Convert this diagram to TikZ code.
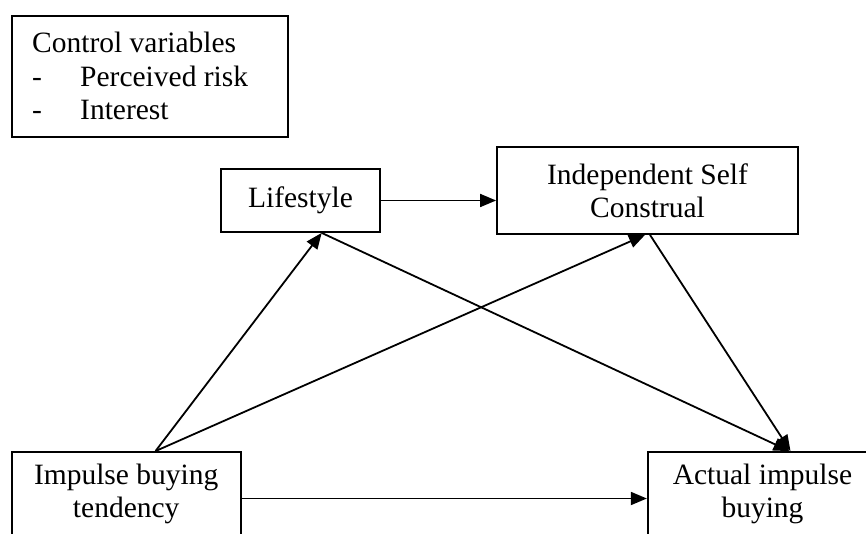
\documentclass[tikz,border=0pt]{standalone}
\usepackage{fontspec}
\setmainfont{Liberation Serif}
\usetikzlibrary{arrows.meta}
\begin{document}
\begin{tikzpicture}[x=1pt,y=-1pt,
  box/.style={draw, line width=1.8pt, inner sep=0pt, align=center, font=\fontsize{29.5}{33}\selectfont},
  lbl/.style={inner sep=0pt, anchor=base west, font=\fontsize{29.5}{33}\selectfont},
  arr/.style={line width=1.8pt, -{Triangle[length=16pt,width=13pt]}}]
\useasboundingbox (0,0) rectangle (866,534);
\clip (0,0) rectangle (866,534);
% control variables box
\node[box, minimum width=276pt, minimum height=121pt] (ctrl) at (150,76.5) {};
\node[lbl] (c1) at (32,52.7) {Control variables};
\node[lbl] (c2) at (32,86.7) {\makebox[48pt][l]{-}Perceived risk};
\node[lbl] (c3) at (32,120) {\makebox[48pt][l]{-}Interest};
% main nodes
\node[box, minimum width=159pt, minimum height=63pt] (life) at (300.5,200.5) {Lifestyle};
\node[box, minimum width=301pt, minimum height=87pt] (isc) at (647.5,190.5) {Independent Self\\Construal};
\node[box, minimum width=229pt, minimum height=84pt] (imp) at (126.2,494) {Impulse buying\\tendency};
\node[box, minimum width=229.5pt, minimum height=84pt] (act) at (762.5,494) {Actual impulse\\buying};
% connectors
\draw[arr] (life.east) -- (life.east -| isc.west);
\draw[arr] ([xshift=29.3pt]imp.north) -- ([xshift=21.2pt]life.south);
\draw[arr] ([xshift=29.3pt]imp.north) -- ([xshift=-2.5pt]isc.south);
\draw[arr] ([xshift=21.2pt]life.south) -- ([xshift=27pt]act.north);
\draw[arr] ([xshift=2.5pt]isc.south) -- ([xshift=28pt]act.north);
\draw[arr] ([yshift=-4.5pt]imp.east) -- ([yshift=-4.5pt]imp.east -| act.west);
\end{tikzpicture}
\end{document}
